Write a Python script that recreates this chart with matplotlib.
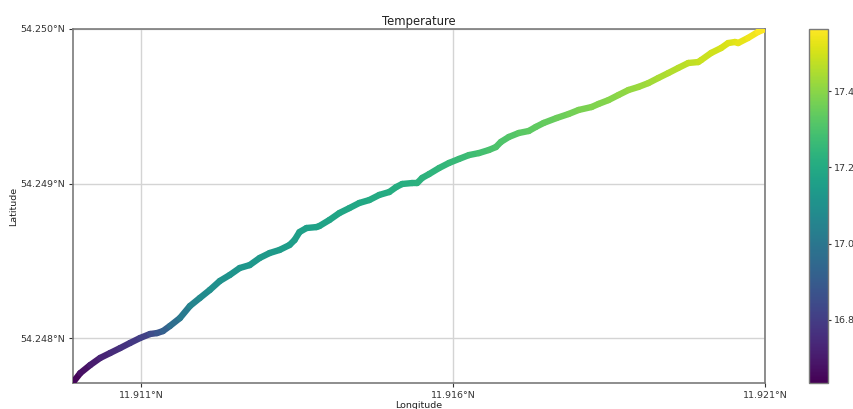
import numpy as np
import matplotlib
matplotlib.use("Agg")
import matplotlib.pyplot as plt
from matplotlib.collections import LineCollection
from matplotlib.colors import Normalize
from matplotlib.ticker import FixedLocator, FuncFormatter

# Track positions (degrees) and water temperature (°C) along the route
lon = [
    11.909914, 11.910026, 11.910185, 11.910345, 11.910505, 11.910665, 11.910824, 11.910984,
    11.911144, 11.911256, 11.911351, 11.911463, 11.911623, 11.911783, 11.911942, 11.912102,
    11.912262, 11.912422, 11.912581, 11.912741, 11.912901, 11.913061, 11.913220, 11.913380,
    11.913460, 11.913540, 11.913652, 11.913811, 11.913859, 11.914019, 11.914179, 11.914339,
    11.914498, 11.914658, 11.914818, 11.914978, 11.915089, 11.915185, 11.915345, 11.915425,
    11.915505, 11.915616, 11.915776, 11.915936, 11.916096, 11.916255, 11.916415, 11.916575,
    11.916687, 11.916767, 11.916894, 11.917054, 11.917214, 11.917326, 11.917453, 11.917661,
    11.917853, 11.918013, 11.918220, 11.918332, 11.918492, 11.918652, 11.918811, 11.918971,
    11.919131, 11.919290, 11.919450, 11.919610, 11.919770, 11.919929, 11.919977, 11.920137,
    11.920297, 11.920409, 11.920521, 11.920568, 11.920728, 11.920888, 11.920990,
]
lat = [
    54.247715, 54.247773, 54.247825, 54.247871, 54.247903, 54.247935, 54.247968, 54.248000,
    54.248026, 54.248032, 54.248045, 54.248078, 54.248129, 54.248207, 54.248259, 54.248311,
    54.248369, 54.248408, 54.248453, 54.248472, 54.248518, 54.248550, 54.248570, 54.248602,
    54.248634, 54.248686, 54.248712, 54.248718, 54.248725, 54.248764, 54.248809, 54.248841,
    54.248874, 54.248893, 54.248926, 54.248945, 54.248977, 54.248997, 54.249003, 54.249003,
    54.249036, 54.249061, 54.249100, 54.249133, 54.249159, 54.249184, 54.249197, 54.249217,
    54.249236, 54.249269, 54.249301, 54.249327, 54.249340, 54.249366, 54.249392, 54.249424,
    54.249450, 54.249476, 54.249495, 54.249515, 54.249540, 54.249573, 54.249605, 54.249625,
    54.249650, 54.249683, 54.249715, 54.249748, 54.249780, 54.249786, 54.249799, 54.249845,
    54.249877, 54.249909, 54.249916, 54.249909, 54.249942, 54.249981, 54.249998,
]
temperature = [
    16.634, 16.66, 16.69, 16.72, 16.74, 16.76, 16.78, 16.80,
    16.83, 16.86, 16.90, 16.94, 16.99, 17.04, 17.07, 17.09,
    17.10, 17.11, 17.12, 17.125, 17.13, 17.135, 17.14, 17.145,
    17.15, 17.155, 17.16, 17.165, 17.17, 17.175, 17.18, 17.185,
    17.19, 17.195, 17.20, 17.205, 17.21, 17.215, 17.22, 17.225,
    17.23, 17.235, 17.24, 17.25, 17.26, 17.27, 17.28, 17.29,
    17.30, 17.305, 17.31, 17.32, 17.33, 17.335, 17.34, 17.35,
    17.36, 17.37, 17.38, 17.385, 17.39, 17.40, 17.41, 17.42,
    17.43, 17.44, 17.45, 17.46, 17.47, 17.48, 17.485, 17.49,
    17.50, 17.51, 17.52, 17.525, 17.535, 17.55, 17.563,
]

lon_ticks = [11.911, 11.916, 11.921]
lat_ticks = [54.248, 54.249, 54.250]
cbar_ticks = [16.8, 17.0, 17.2, 17.4]
lon_range = (11.90991, 11.921)
lat_range = (54.247709, 54.250)

fig = plt.figure(figsize=(8.54, 4.09), dpi=100)
ax = fig.add_axes([0.0855, 0.0636, 0.8103, 0.8655])
cax = fig.add_axes([0.9473, 0.0636, 0.0222, 0.8655])

lon_a = np.asarray(lon)
lat_a = np.asarray(lat)
temp_a = np.asarray(temperature)
pts = np.column_stack([lon_a, lat_a]).reshape(-1, 1, 2)
segs = np.concatenate([pts[:-1], pts[1:]], axis=1)

norm = Normalize(vmin=temp_a.min(), vmax=temp_a.max())
lc = LineCollection(segs, cmap="viridis", norm=norm, linewidths=4.6,
                    capstyle="round", joinstyle="round", zorder=3)
lc.set_array((temp_a[:-1] + temp_a[1:]) / 2)
ax.add_collection(lc)

ax.set_xlim(*lon_range)
ax.set_ylim(*lat_range)

fmt = FuncFormatter(lambda v, p: f"{v:.3f}°N")
ax.xaxis.set_major_locator(FixedLocator(lon_ticks))
ax.yaxis.set_major_locator(FixedLocator(lat_ticks))
ax.xaxis.set_major_formatter(fmt)
ax.yaxis.set_major_formatter(fmt)
ax.tick_params(labelsize=6.8, colors="#333333", length=3, width=0.8, pad=2.5)
ax.grid(True, color="#d4d4d4", linewidth=1.0, zorder=0)
for s in ax.spines.values():
    s.set_color("#7a7a7a")
    s.set_linewidth(1.2)

ax.set_title("Temperature", fontsize=8.4, pad=3, color="#222222")
ax.set_xlabel("Longitude", fontsize=6.8, labelpad=1, color="#222222")
ax.set_ylabel("Latitude", fontsize=6.8, labelpad=2, color="#222222")

cb = fig.colorbar(lc, cax=cax)
cb.set_ticks(cbar_ticks)
cb.ax.tick_params(labelsize=6.8, colors="#333333", length=2.5, width=0.8, pad=2)
cb.outline.set_edgecolor("#7a7a7a")
cb.outline.set_linewidth(1.0)

fig.savefig("out.png", dpi=100)
